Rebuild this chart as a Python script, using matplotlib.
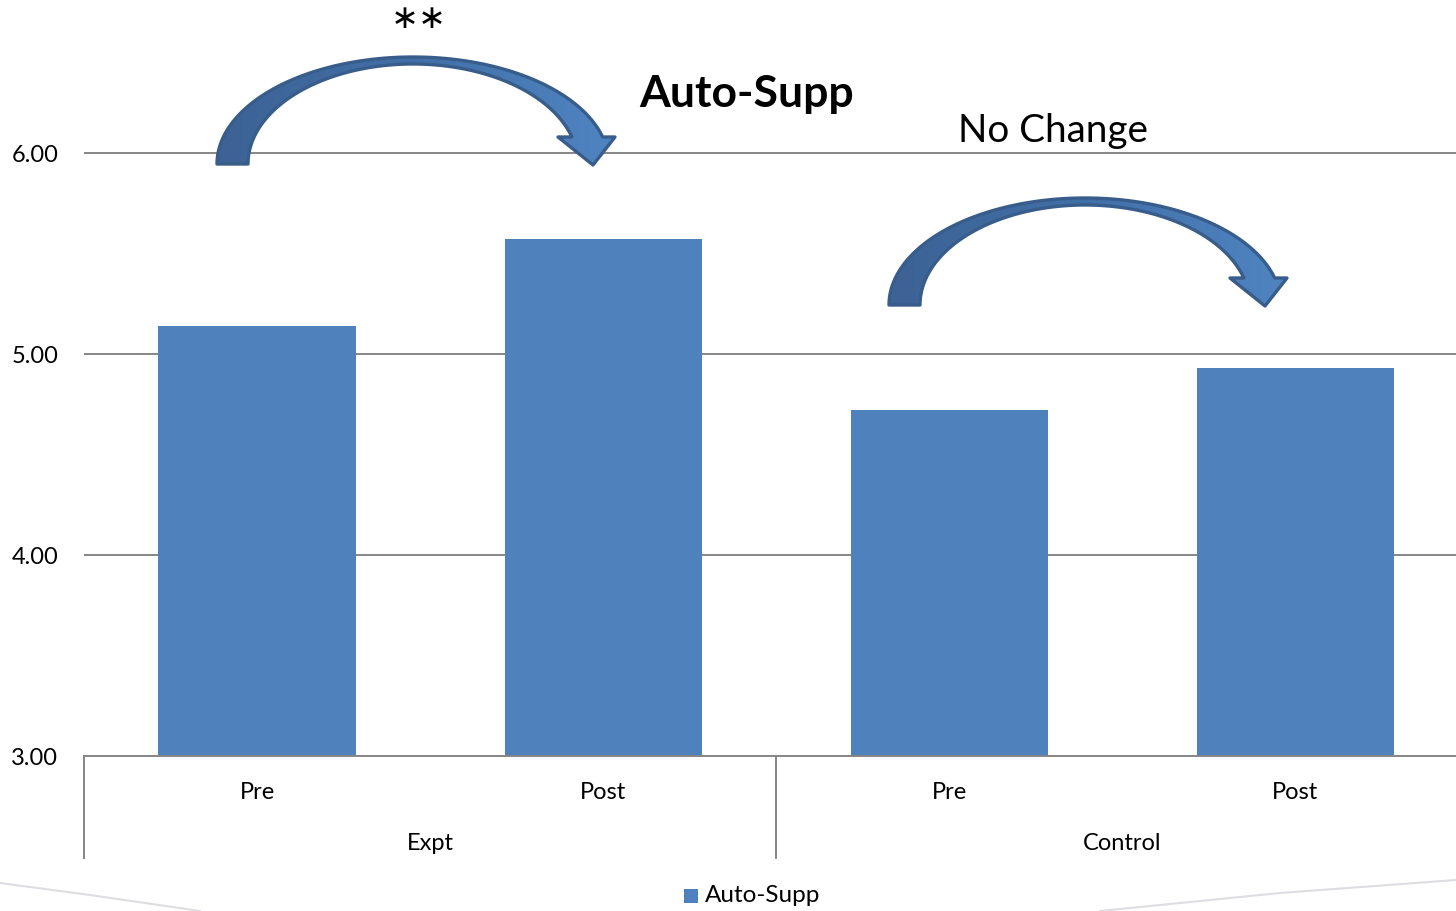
import numpy as np
import matplotlib
matplotlib.use("Agg")
import matplotlib.pyplot as plt
from matplotlib.patches import Polygon, Rectangle
from matplotlib.colors import LinearSegmentedColormap
import matplotlib.transforms as mtransforms

plt.rcParams['font.family'] = ['Lato', 'DejaVu Sans']

# ---- data ----
groups = ["Expt", "Control"]
phases = ["Pre", "Post", "Pre", "Post"]
values = [5.14, 5.57, 4.72, 4.93]
series_name = "Auto-Supp"
yticks = [3.0, 4.0, 5.0, 6.0]

BAR = "#4F81BD"
GRID = "#868686"

W, H = 1456, 911
fig = plt.figure(figsize=(W / 100, H / 100), dpi=100)

# plot area in pixel terms
left_px, right_px, base_px = 84, 1456, 756
ymin, ymax = 3.0, 6.6
px_per_unit = 201
top_px = base_px - (ymax - ymin) * px_per_unit
ax = fig.add_axes([left_px / W, (H - base_px) / H, (right_px - left_px) / W, (base_px - top_px) / H])

x = np.arange(len(values))
ax.bar(x, [v - ymin for v in values], bottom=ymin, width=0.57, color=BAR, zorder=2)
ax.set_xlim(-0.5, 3.5 - 12.5 / 346)
ax.set_ylim(ymin, ymax)

for s in ["top", "right", "left"]:
    ax.spines[s].set_visible(False)
ax.spines["bottom"].set_color(GRID)
ax.spines["bottom"].set_linewidth(1.4)

ax.set_yticks(yticks)
ax.set_yticklabels([f"{t:.2f}" for t in yticks], fontsize=17)
ax.tick_params(axis="y", length=0, pad=18.5)
for t in yticks[1:]:
    ax.axhline(t, color=GRID, lw=1.4, zorder=1)

ax.set_xticks(x)
ax.set_xticklabels(phases, fontsize=17)
ax.tick_params(axis="x", length=0, pad=18.5)

# group labels and separators below the axis
ah = base_px - top_px
trans = mtransforms.blended_transform_factory(ax.transData, ax.transAxes)
for gi, g in enumerate(groups):
    ax.text(gi * 2 + 0.5, -87 / ah, g, transform=trans, ha="center", va="center", fontsize=17)
for sx in [-0.5, 1.5, 3.5]:
    ax.plot([sx, sx], [0, -102 / ah], transform=trans, color=GRID, lw=1.4, clip_on=False)

# overlay in pixel coordinates for annotations
ov = fig.add_axes([0, 0, 1, 1], zorder=5)
ov.set_xlim(0, W)
ov.set_ylim(H, 0)
ov.axis("off")
ov.patch.set_alpha(0)

cmap = LinearSegmentedColormap.from_list("arr", ["#3D6294", "#4170A8", "#5085C2"])


def curved_arrow(dx, dy):
    cx, cy = 413 + dx, 164 + dy
    ao, bo = 196, 107
    ai, bi = 165, 100
    rise = 27
    to = np.arcsin(rise / bo)
    ti = np.arcsin(rise / bi)
    t_out = np.linspace(np.pi, to, 120)
    t_in = np.linspace(ti, np.pi, 120)
    outer = np.column_stack([cx + ao * np.cos(t_out), cy - bo * np.sin(t_out)])
    inner = np.column_stack([cx + ai * np.cos(t_in), cy - bi * np.sin(t_in)])
    head = np.array([[615 + dx, 137 + dy], [593 + dx, 165 + dy], [558 + dx, 137 + dy]])
    pts = np.vstack([outer, head, inner])
    poly = Polygon(pts, closed=True, facecolor="none", edgecolor="#385D8A", lw=2.4, zorder=6,
                   joinstyle="round")
    clip = Polygon(pts, closed=True, transform=ov.transData)
    grad = np.linspace(0, 1, 256).reshape(1, -1)
    im = ov.imshow(grad, cmap=cmap, aspect="auto",
                   extent=(cx - ao - 5, 620 + dx, 170 + dy, cy - bo - 5), zorder=5)
    im.set_clip_path(clip)
    ov.add_patch(poly)


curved_arrow(0, 0)
curved_arrow(672, 141)

# significance marker
ov.text(419, 19, "\u2217\u2217", ha="center", va="center", fontsize=24, family="DejaVu Sans")
ov.text(747, 94, "Auto-Supp", ha="center", va="center", fontsize=32, fontweight="bold")
ov.text(1053, 131, "No Change", ha="center", va="center", fontsize=27.8)

# faint slide shadow near the bottom edge
ov.plot([0, 90, 200], [883, 895, 911], color="#DEDEE2", lw=1.5, zorder=1)
ov.plot([1100, 1280, 1456], [911, 893, 880], color="#DEDEE2", lw=1.5, zorder=1)

# legend
ov.add_patch(Rectangle((684, 889), 14, 14, facecolor=BAR, edgecolor="none"))
ov.text(705, 896, series_name, ha="left", va="center", fontsize=17.5)

fig.savefig("out.png", dpi=100)
